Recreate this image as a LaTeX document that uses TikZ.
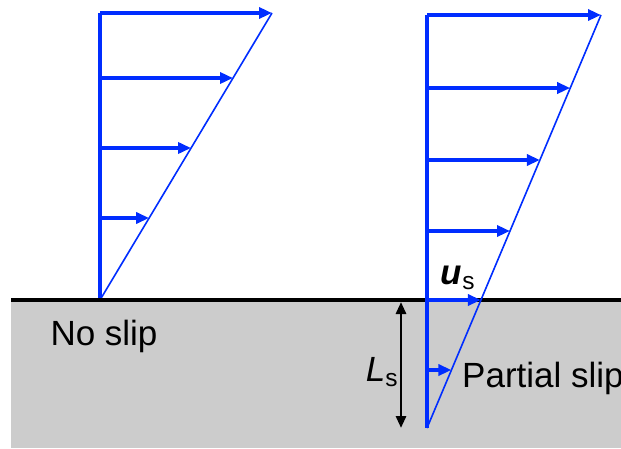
\documentclass[tikz,border=0pt]{standalone}
\usepackage{fontspec}
\setmainfont{Liberation Sans}
\usepackage{tikz}
\usetikzlibrary{positioning, arrows.meta, calc}

\definecolor{profblue}{RGB}{0,45,255}
\definecolor{wallgrey}{RGB}{204,204,204}

\begin{document}
\begin{tikzpicture}[x=1pt, y=1pt,
            profile/.style={draw=profblue, line width=4pt},
            slope/.style={draw=profblue, line width=1.6pt},
            vel/.style={profblue, line width=3.6pt, -{Triangle[length=13pt, width=11pt]}},
            gap/.style={black, line width=2.8pt, {Triangle[length=12pt, width=10pt]}-{Triangle[length=12pt, width=10pt]}},
            lbl/.style={font=\fontsize{35}{40}\selectfont, inner sep=0pt}
        ]

        \useasboundingbox (0,0) rectangle (621,448);

        % Wand
        \fill[wallgrey] (11,0) rectangle (621,148);
        \coordinate (wl) at (11,148);
        \coordinate (wr) at (621,148);

        % Profil links
        \coordinate (n0) at (100,148);
        \coordinate (n1) at (100,435);
        \coordinate (nt) at (272,435);
        \draw[slope] (n0) -- (nt);
        \draw[vel] (n1) -- (nt);
        \coordinate (na) at (100,370);
        \coordinate (nb) at (100,300);
        \coordinate (nc) at (100,230);
        \draw[vel] (na) -- ($(n0)!0.7735!(nt)$);
        \draw[vel] (nb) -- ($(n0)!0.5296!(nt)$);
        \draw[vel] (nc) -- ($(n0)!0.2857!(nt)$);
        \draw[profile] (n0) -- (n1);

        \draw[black, line width=3.5pt] (wl) -- (wr);

        % Profil rechts
        \coordinate (p0) at (427,20);
        \coordinate (p1) at (427,433);
        \coordinate (pt) at (601,433);
        \draw[slope] (p0) -- (pt);
        \draw[vel] (p1) -- (pt);
        \coordinate (pa) at (427,360);
        \coordinate (pb) at (427,288);
        \coordinate (pc) at (427,217);
        \coordinate (pd) at (427,148);
        \coordinate (pe) at (427,78);
        \draw[vel] (pa) -- ($(p0)!0.8232!(pt)$);
        \draw[vel] (pb) -- ($(p0)!0.6489!(pt)$);
        \draw[vel] (pc) -- ($(p0)!0.4770!(pt)$);
        \draw[vel] (pd) -- ($(p0)!0.3099!(pt)$);
        \draw[vel] (pe) -- ($(p0)!0.1404!(pt)$);
        \draw[profile] (p0) -- (p1);

        % Schlupflaenge
        \coordinate (g0) at (401,146);
        \coordinate (g1) at (401,20);
        \draw[gap] (g0) -- (g1);

        % Beschriftung
        \node[lbl] (noslip) at (104,112) {No slip};
        \node[lbl, anchor=west] (partial) at (462,70) {Partial slip};
        \node[lbl] (ls) at (382,76) {\textit{L}\textsubscript{s}};
        \node[lbl] (us) at (458,170) {\textbf{\textit{u}}\textsubscript{s}};

    \end{tikzpicture}
\end{document}
